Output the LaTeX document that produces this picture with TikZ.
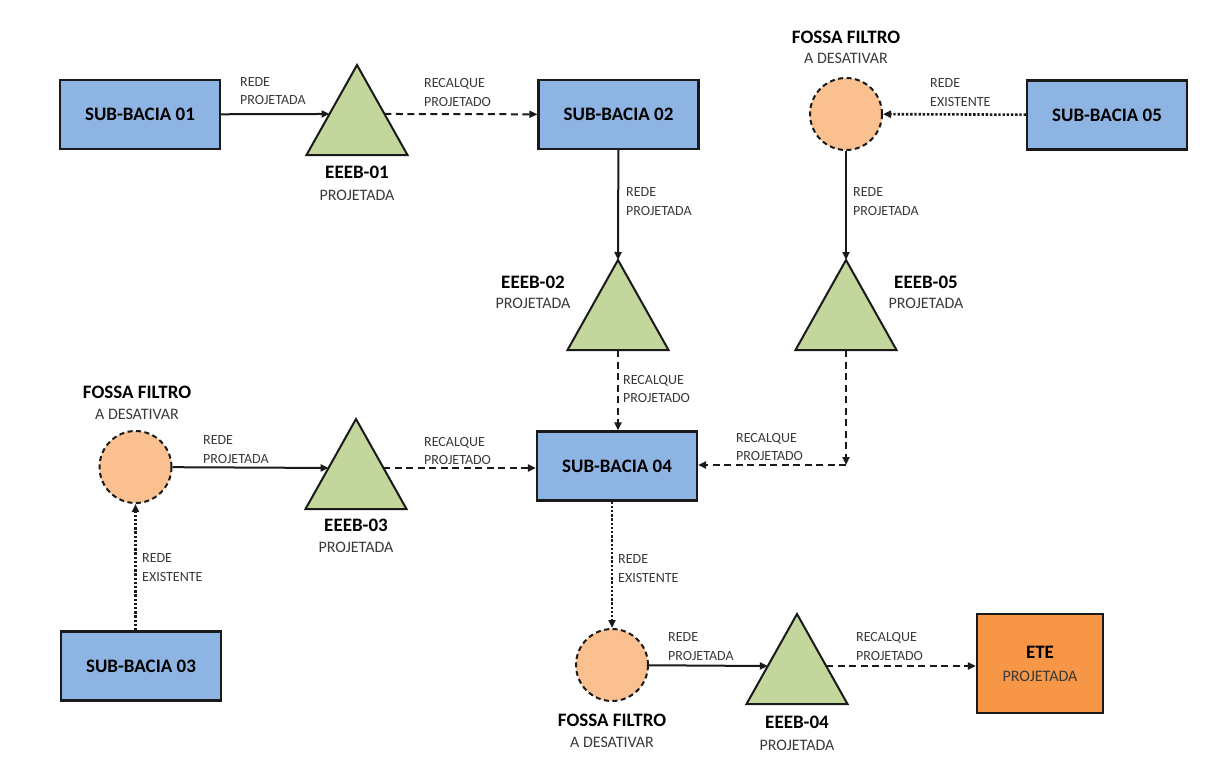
\documentclass[tikz,border=0pt]{standalone}
\usepackage{fontspec}
\setmainfont{Carlito}
\usetikzlibrary{calc,arrows.meta}
\definecolor{boxblue}{HTML}{8DB4E2}
\definecolor{trigreen}{HTML}{C3D69B}
\definecolor{fossaor}{HTML}{FAC090}
\definecolor{eteor}{HTML}{F79646}
\definecolor{lblgray}{HTML}{3A3A3A}
\definecolor{edgegray}{HTML}{1A1A1A}
\newcommand\mytri[3]{%
  \coordinate (#1a) at (#2,#3);
  \coordinate (#1l) at (#2-50.5,#3+90);
  \coordinate (#1r) at (#2+50.5,#3+90);
  \coordinate (#1b) at (#2,#3+90);
  \draw[trishape] (#1a) -- (#1l) -- (#1r) -- cycle;}
\begin{document}
\begin{tikzpicture}[x=1pt,y=-1pt,
 sbbox/.style={draw=edgegray,line width=2.2pt,fill=boxblue,minimum width=160pt,minimum height=69pt,inner sep=0pt,font=\bfseries\fontsize{19}{22}\selectfont},
 trishape/.style={draw=edgegray,line width=2pt,fill=trigreen,line join=miter},
 fossa/.style={circle,draw=edgegray,line width=2pt,dash pattern=on 5pt off 3.5pt,fill=fossaor,minimum size=72pt,inner sep=0pt},
 lbl/.style={font=\fontsize{14}{18.5}\selectfont,align=left,anchor=west,text=lblgray,inner sep=0pt},
 ttl/.style={font=\bfseries\fontsize{19}{22}\selectfont,inner sep=0pt},
 subt/.style={font=\fontsize{16}{19}\selectfont,inner sep=0pt,text=lblgray},
 link/.style={line width=2pt,draw=edgegray,-{Triangle[length=8pt,width=7pt]}},
 solidlink/.style={link},
 dashlink/.style={link,dash pattern=on 7pt off 4.5pt},
 dotlink/.style={link,line width=2.6pt,dash pattern=on 2.4pt off 1.8pt},
]
\useasboundingbox[fill=white] (0,0) rectangle (1207,766);

% boxes
\node[sbbox] (sb01) at (140,114.5) {SUB-BACIA 01};
\node[sbbox] (sb02) at (618.5,114.5) {SUB-BACIA 02};
\node[sbbox] (sb05) at (1107,115) {SUB-BACIA 05};
\node[sbbox] (sb04) at (617,466) {SUB-BACIA 04};
\node[sbbox] (sb03) at (141,666) {SUB-BACIA 03};
\node[draw=edgegray,line width=2.2pt,fill=eteor,minimum width=126pt,minimum height=99pt,inner sep=0pt,align=center] (ete) at (1040,663.5)
  {{\bfseries\fontsize{19}{22}\selectfont ETE}\\[11pt]{\fontsize{16}{19}\selectfont\color{lblgray}PROJETADA}};

% fossas
\node[fossa] (f5) at (846,114) {};
\node[fossa] (f3) at (135.5,467) {};
\node[fossa] (f4) at (612,665) {};

% triangles
\mytri{t1}{357}{65}
\mytri{t2}{618}{260}
\mytri{t5}{846}{260}
\mytri{t3}{356}{419}
\mytri{t4}{797}{614}
\coordinate (t1in) at ($(t1a)!0.544!(t1l)$);
\coordinate (t1out) at ($(t1a)!0.544!(t1r)$);
\coordinate (t3in) at ($(t3a)!0.544!(t3l)$);
\coordinate (t3out) at ($(t3a)!0.544!(t3r)$);
\coordinate (t4in) at ($(t4a)!0.578!(t4l)$);
\coordinate (t4out) at ($(t4a)!0.578!(t4r)$);
\coordinate (c5) at (846,465);

% connectors
\draw[solidlink] (sb01) -- (t1in);
\draw[dashlink] (t1out) -- (sb02);
\draw[solidlink] (sb02) -- (t2a);
\draw[dotlink] (sb05) -- (f5);
\draw[solidlink] (f5) -- (t5a);
\draw[dashlink] (t2b) -- (t2b |- sb04.north);
\draw[dashlink] (t5b) -- (c5);
\draw[dashlink] (c5) -- (c5 -| sb04.east);
\draw[solidlink] (f3) -- (t3in);
\draw[dashlink] (t3out) -- (t3out -| sb04.west);
\draw[dotlink] (sb03.north -| f3) -- (f3);
\draw[dotlink] (sb04.south -| f4) -- (f4);
\draw[solidlink] (f4) -- (t4in);
\draw[dashlink] (t4out) -- (t4out -| ete.west);

% connector labels
\node[lbl] (l1) at (240,91) {REDE\\PROJETADA};
\node[lbl] (l2) at (424,92.5) {RECALQUE\\PROJETADO};
\node[lbl] (l3) at (930,92.5) {REDE\\EXISTENTE};
\node[lbl] (l4) at (626,201.5) {REDE\\PROJETADA};
\node[lbl] (l5) at (853,201.5) {REDE\\PROJETADA};
\node[lbl] (l6) at (623,389) {RECALQUE\\PROJETADO};
\node[lbl] (l7) at (736,447) {RECALQUE\\PROJETADO};
\node[lbl] (l8) at (203,449.5) {REDE\\PROJETADA};
\node[lbl] (l9) at (424,451) {RECALQUE\\PROJETADO};
\node[lbl] (l10) at (142,567.5) {REDE\\EXISTENTE};
\node[lbl] (l11) at (618,568.5) {REDE\\EXISTENTE};
\node[lbl] (l12) at (668,646.5) {REDE\\PROJETADA};
\node[lbl] (l13) at (856,646.5) {RECALQUE\\PROJETADO};

% titles
\node[ttl] (n1) at (357,172) {EEEB-01};
\node[subt] (s1) at (357,195) {PROJETADA};
\node[ttl] (n2) at (533,282) {EEEB-02};
\node[subt] (s2) at (533,303) {PROJETADA};
\node[ttl] (n5) at (926,282) {EEEB-05};
\node[subt] (s5) at (926,303) {PROJETADA};
\node[ttl] (n3) at (356,525) {EEEB-03};
\node[subt] (s3) at (356,547) {PROJETADA};
\node[ttl] (n4) at (797,722) {EEEB-04};
\node[subt] (s4) at (797,745) {PROJETADA};
\node[ttl] (ff5) at (846,37) {FOSSA FILTRO};
\node[subt] (fd5) at (846,58) {A DESATIVAR};
\node[ttl] (ff3) at (137,392) {FOSSA FILTRO};
\node[subt] (fd3) at (137,414) {A DESATIVAR};
\node[ttl] (ff4) at (612,720) {FOSSA FILTRO};
\node[subt] (fd4) at (612,742) {A DESATIVAR};
\end{tikzpicture}
\end{document}
